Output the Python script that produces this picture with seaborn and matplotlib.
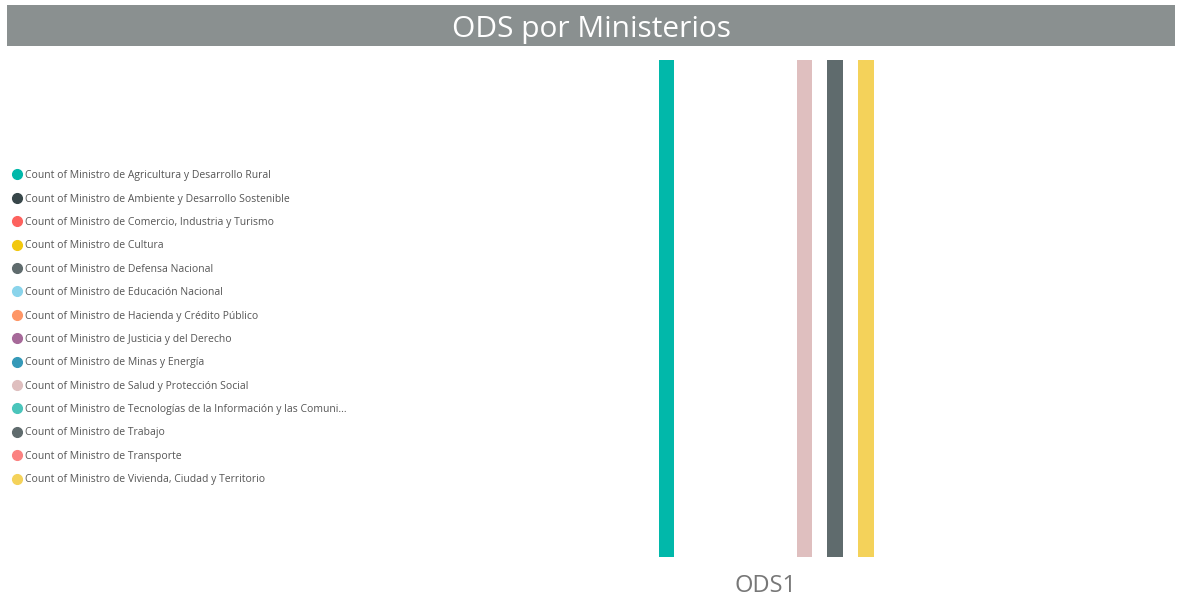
import matplotlib
matplotlib.use("Agg")
import matplotlib.pyplot as plt
from matplotlib.lines import Line2D
from matplotlib.patches import Rectangle
import seaborn as sns
import pandas as pd

sns.set_style("white")
plt.rcParams['font.family'] = ['Open Sans', 'DejaVu Sans']

categories = ["ODS1"]
ministerios = [
    "Count of Ministro de Agricultura y Desarrollo Rural",
    "Count of Ministro de Ambiente y Desarrollo Sostenible",
    "Count of Ministro de Comercio, Industria y Turismo",
    "Count of Ministro de Cultura",
    "Count of Ministro de Defensa Nacional",
    "Count of Ministro de Educación Nacional",
    "Count of Ministro de Hacienda y Crédito Público",
    "Count of Ministro de Justicia y del Derecho",
    "Count of Ministro de Minas y Energía",
    "Count of Ministro de Salud y Protección Social",
    "Count of Ministro de Tecnologías de la Información y las Comuni...",
    "Count of Ministro de Trabajo",
    "Count of Ministro de Transporte",
    "Count of Ministro de Vivienda, Ciudad y Territorio",
]
values = [1, 0, 0, 0, 0, 0, 0, 0, 0, 1, 0, 1, 0, 1]
colors = ["#01B8AA", "#374649", "#FD625E", "#F2C80F", "#5F6B6D", "#8AD4EB",
          "#FE9666", "#A66999", "#3599B8", "#DFBFBF", "#4AC5BB", "#5F6B6D",
          "#FB8281", "#F4D25A"]

df = pd.DataFrame({"ODS": categories * len(ministerios),
                   "Ministerio": ministerios,
                   "Count": values})

fig = plt.figure(figsize=(11.8, 6), dpi=100)
W, H = 1180, 600
# axes: x 360..1172, y 60..557
ax = fig.add_axes([360 / W, 1 - 557 / H, 812 / W, 497 / H])
sns.barplot(data=df, x="ODS", y="Count", hue="Ministerio", palette=colors,
            hue_order=ministerios, dodge=True, width=0.8, saturation=1,
            edgecolor="none", linewidth=0, legend=False, ax=ax)
half = 812 / 215 * 0.4
ax.set_xlim(-half, half)
ax.set_ylim(0, 1)
for s in ax.spines.values():
    s.set_visible(False)
ax.set_yticks([])
ax.set_xlabel("")
ax.set_ylabel("")
ax.tick_params(axis="x", length=0, labelsize=17, labelcolor="#777777", pad=12)

# title bar
fig.patches.append(Rectangle((7 / W, 1 - 46 / H), 1168 / W, 41 / H,
                             transform=fig.transFigure, facecolor="#8A9090",
                             edgecolor="none", zorder=0))
fig.text(0.5 * (7 + 1175) / W, 1 - 30 / H, "ODS por Ministerios", color="white",
         fontsize=21.5, ha="center", va="center")

handles = [Line2D([0], [0], marker="o", linestyle="none", markersize=7,
                  markerfacecolor=c, markeredgecolor=c) for c in colors]
fig.legend(handles, ministerios, loc="upper left",
           bbox_to_anchor=(11 / W, 1 - 167 / H), frameon=False,
           fontsize=7.5, labelcolor="#555555", handlelength=0.6,
           handletextpad=0.45, labelspacing=1.19, borderaxespad=0,
           borderpad=0.3)

fig.savefig("out.png", dpi=100)
